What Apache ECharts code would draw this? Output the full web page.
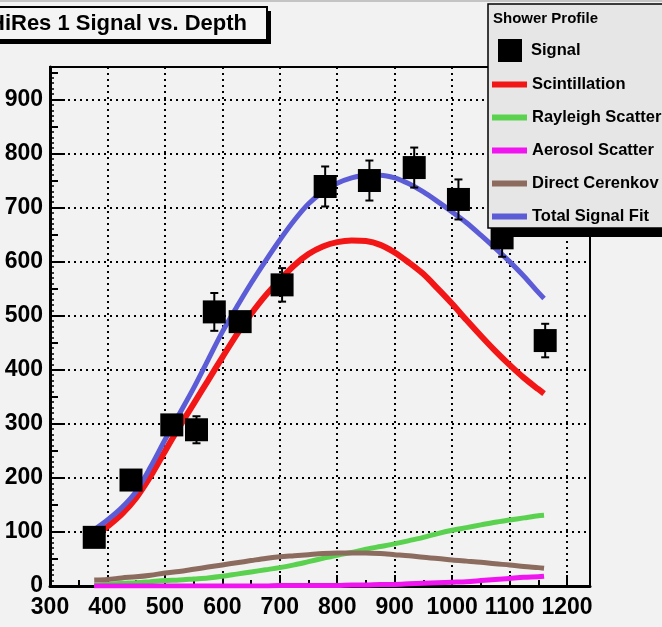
<!DOCTYPE html>
<html><head><meta charset="utf-8">
<script src="https://cdn.jsdelivr.net/npm/echarts@6/dist/echarts.min.js"></script>
<style>html,body{margin:0;padding:0;background:#f2f2f2;overflow:hidden}#c{width:662px;height:627px;}</style>
</head><body><div id="c"></div>
<script>
// ---- data ----
const depthTicks = [300, 400, 500, 600, 700, 800, 900, 1000, 1100, 1200];
const signalTicks = [0, 100, 200, 300, 400, 500, 600, 700, 800, 900];
const signalDepth = [377, 441, 512, 555, 586, 631, 704, 779, 856, 934, 1011, 1087, 1162];
const signalValue = [90, 196, 298, 289, 507, 489, 557, 739, 750, 774, 715, 644, 454];
const signalError = [8, 10, 10, 25, 35, 12, 31, 37, 37, 37, 37, 35, 31];
const curveDepth = [377, 400, 425, 450, 475, 500, 525, 550, 575, 600, 625, 650, 675, 700, 725, 750, 775,
  800, 825, 850, 875, 900, 925, 950, 975, 1000, 1025, 1050, 1075, 1100, 1125, 1150, 1160];
const scintillation = [91, 110, 133, 163, 203, 249, 294, 337, 380, 423, 465, 503, 537, 566, 593, 614, 628,
  636, 639, 638, 631, 617, 598, 577, 550, 522, 492, 463, 435, 409, 385, 364, 356];
const rayleigh = [2, 3, 5, 6, 8, 10, 11, 13, 15, 18, 22, 26, 30, 34, 39, 45, 51,
  57, 62, 68, 73, 78, 84, 90, 97, 103, 108, 113, 118, 122, 126, 130, 131];
const aerosol = [0, 0, 0, 0, 0, 0, 0, 0, 0, 0, 0, 0, 0, 1, 1, 1, 1,
  1, 2, 2, 3, 3, 4, 5, 6, 7, 8, 10, 12, 14, 16, 17, 18];
const cerenkov = [11, 12, 15, 17, 20, 24, 27, 31, 35, 39, 43, 47, 51, 54, 56, 58, 60,
  61, 61, 61, 60, 58, 56, 53, 51, 48, 46, 44, 41, 39, 36, 34, 33];
const totalFit = [104, 122, 145, 175, 220, 270, 318, 366, 418, 470, 516, 560, 601, 640, 676, 707, 729,
  745, 755, 760, 760, 755, 744, 729, 711, 692, 672, 649, 625, 600, 573, 543, 532];

const pairs = arr => curveDepth.map((d, i) => [d, arr[i]]);
const FONT = '"Liberation Sans", Arial, Helvetica, sans-serif';
const chart = echarts.init(document.getElementById('c'));

function lineSeries(name, arr, color, width) {
  return {
    name, type: 'line', data: pairs(arr), smooth: 0.3, showSymbol: false,
    color: color, lineStyle: { color: color, width: width, cap: 'butt' }, z: 4, animation: false
  };
}

chart.setOption({
  backgroundColor: '#f2f2f2',
  animation: false,
  grid: { left: 50, top: 67, right: 72, bottom: 41, show: true, borderColor: '#000', borderWidth: 2, backgroundColor: 'transparent' },
  xAxis: [{
    type: 'value', min: 300, max: 1240, interval: 100,
    axisLine: { show: true, lineStyle: { color: '#000', width: 3 } },
    axisTick: { show: true, inside: true, length: 11, lineStyle: { color: '#000', width: 2 } },
    splitLine: { show: true, lineStyle: { color: '#000', width: 2, type: [2, 4] } },
    axisLabel: {
      color: '#000', fontFamily: FONT, fontWeight: 'bold', fontSize: 23, margin: 10,
      formatter: v => depthTicks.includes(v) ? String(v) : ''
    }
  }, {
    type: 'value', min: 300, max: 1240, interval: 50, position: 'bottom',
    axisLine: { show: false }, axisLabel: { show: false }, splitLine: { show: false },
    axisTick: { show: true, inside: true, length: 6, lineStyle: { color: '#000', width: 2 } }
  }],
  yAxis: [{
    type: 'value', min: 0, max: 960, interval: 100,
    axisLine: { show: true, lineStyle: { color: '#000', width: 3 } },
    axisTick: { show: true, inside: true, length: 15, lineStyle: { color: '#000', width: 2 } },
    minorTick: { show: true, splitNumber: 10, length: 4, lineStyle: { color: '#000', width: 1.5 } },
    splitLine: { show: true, lineStyle: { color: '#000', width: 2, type: [2, 4] } },
    axisLabel: {
      color: '#000', fontFamily: FONT, fontWeight: 'bold', fontSize: 23, margin: 7,
      formatter: v => signalTicks.includes(v) ? String(v) : ''
    }
  }, {
    type: 'value', min: 0, max: 960, interval: 50, position: 'left',
    axisLine: { show: false }, axisLabel: { show: false }, splitLine: { show: false },
    axisTick: { show: true, inside: true, length: 8, lineStyle: { color: '#000', width: 2 } }
  }],
  legend: [{
    data: ['Signal'], left: 498, top: 39, padding: 0, itemWidth: 24, itemHeight: 23, icon: 'rect',
    textStyle: { color: '#000', fontFamily: FONT, fontWeight: 'bold', fontSize: 16.5, padding: [0, 0, 0, 4] },
    selectedMode: false, z: 20
  }, {
    data: ['Scintillation', 'Rayleigh Scatter', 'Aerosol Scatter', 'Direct Cerenkov', 'Total Signal Fit'],
    orient: 'vertical', left: 492, top: 76, padding: 0, itemWidth: 35, itemHeight: 6, itemGap: 16, icon: 'rect',
    textStyle: { color: '#000', fontFamily: FONT, fontWeight: 'bold', fontSize: 16.5 },
    selectedMode: false, z: 20
  }],
  graphic: [
    { type: 'rect', shape: { x: 0, y: 0, width: 662, height: 2 }, style: { fill: '#c4c4c4' }, z: 10 },
    // title box
    { type: 'rect', shape: { x: -20, y: 11, width: 291, height: 33 }, style: { fill: '#000' }, z: 10 },
    { type: 'rect', shape: { x: -20, y: 7, width: 287, height: 33 }, style: { fill: '#f4f4f4', stroke: '#000', lineWidth: 2 }, z: 11 },
    { type: 'text', left: -11, top: 13, z: 12,
      style: { text: 'HiRes 1 Signal vs. Depth', fill: '#000', font: 'bold 22px ' + FONT } },
    // legend box
    { type: 'rect', shape: { x: 494, y: 224, width: 175, height: 13 }, style: { fill: '#000' }, z: 10 },
    { type: 'rect', shape: { x: 488, y: 4, width: 180, height: 224 }, style: { fill: '#e6e6e6', stroke: '#000', lineWidth: 1.5 }, z: 11 },
    { type: 'text', left: 493, top: 11, z: 12,
      style: { text: 'Shower Profile', fill: '#000', font: 'bold 15px ' + FONT } }
  ],
  series: [
    lineSeries('Rayleigh Scatter', rayleigh, '#5bd24f', 5),
    lineSeries('Direct Cerenkov', cerenkov, '#8c6c5e', 5),
    lineSeries('Aerosol Scatter', aerosol, '#f014f0', 5),
    lineSeries('Scintillation', scintillation, '#f21616', 6),
    lineSeries('Total Signal Fit', totalFit, '#5c5cd6', 5),
    {
      type: 'custom', name: 'Signal errors', z: 5,
      data: signalDepth.map((d, i) => [d, signalValue[i], signalError[i]]),
      encode: { x: 0, y: 1 },
      renderItem: (params, api) => {
        const x = api.value(0), y = api.value(1), e = api.value(2);
        const t = api.coord([x, y + e]), b = api.coord([x, y - e]);
        const w = 4;
        const st = { stroke: '#000', lineWidth: 2 };
        return { type: 'group', children: [
          { type: 'line', shape: { x1: t[0], y1: t[1], x2: b[0], y2: b[1] }, style: st },
          { type: 'line', shape: { x1: t[0] - w, y1: t[1], x2: t[0] + w, y2: t[1] }, style: st },
          { type: 'line', shape: { x1: b[0] - w, y1: b[1], x2: b[0] + w, y2: b[1] }, style: st }
        ] };
      }
    },
    {
      name: 'Signal', type: 'scatter', symbol: 'rect', symbolSize: [23, 23], z: 6,
      color: '#000', itemStyle: { color: '#000', opacity: 1 },
      data: signalDepth.map((d, i) => [d, signalValue[i]])
    }
  ]
});
</script></body></html>
